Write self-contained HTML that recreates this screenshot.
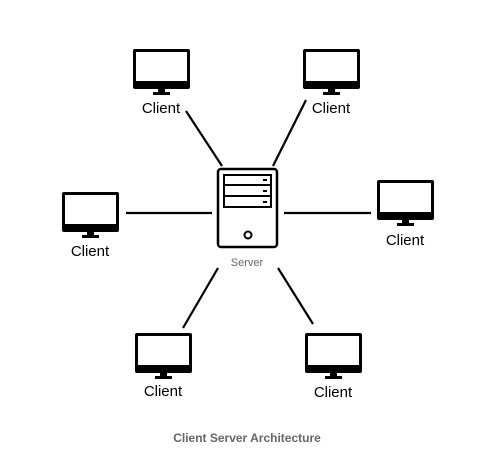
<!DOCTYPE html>
<html><head><style>
html,body{margin:0;padding:0;background:#fff;}
svg{display:block;}
text{font-family:"Liberation Sans",Arial,sans-serif;}
</style></head><body>
<svg width="486" height="472" viewBox="0 0 486 472" xmlns="http://www.w3.org/2000/svg">
<defs>
<g id="mon">
<rect x="0" y="0" width="57" height="40" rx="2" fill="#000"/>
<rect x="3" y="3" width="51" height="29" fill="#fff"/>
<rect x="25" y="40" width="7" height="4" fill="#000"/>
<rect x="20" y="43" width="17" height="3" fill="#000"/>
</g>
</defs>
<g stroke="#000" stroke-width="2.2" fill="none">
<line x1="186" y1="111" x2="222" y2="166"/>
<line x1="306" y1="100" x2="273" y2="166"/>
<line x1="126" y1="213" x2="212" y2="213"/>
<line x1="284" y1="213" x2="371" y2="213"/>
<line x1="218" y1="268" x2="183" y2="328"/>
<line x1="278" y1="268" x2="313" y2="324"/>
</g>
<!-- server -->
<rect x="218" y="169" width="59" height="78" rx="3" fill="#fff" stroke="#000" stroke-width="2.5"/>
<g fill="#fff" stroke="#000" stroke-width="2">
<rect x="224" y="175" width="47" height="10"/>
<rect x="224" y="185" width="47" height="11"/>
<rect x="224" y="196" width="47" height="11"/>
</g>
<g fill="#000">
<rect x="263" y="179" width="4" height="2"/>
<rect x="263" y="190" width="4" height="2"/>
<rect x="263" y="201" width="4" height="2"/>
</g>
<circle cx="248" cy="235" r="3.5" fill="none" stroke="#000" stroke-width="2"/>
<text x="247" y="266" font-size="11" fill="#666" text-anchor="middle">Server</text>
<use href="#mon" x="133" y="49"/>
<use href="#mon" x="303" y="49"/>
<use href="#mon" x="62" y="192"/>
<use href="#mon" x="377" y="180"/>
<use href="#mon" x="135" y="333"/>
<use href="#mon" x="305" y="333"/>
<g font-size="15" fill="#000" text-anchor="middle">
<text x="161" y="113">Client</text>
<text x="331" y="113">Client</text>
<text x="90" y="256">Client</text>
<text x="405" y="245">Client</text>
<text x="163" y="396">Client</text>
<text x="333" y="397">Client</text>
</g>
<text x="247" y="442" font-size="12" font-weight="bold" fill="#666" text-anchor="middle">Client Server Architecture</text>
</svg>
</body></html>
